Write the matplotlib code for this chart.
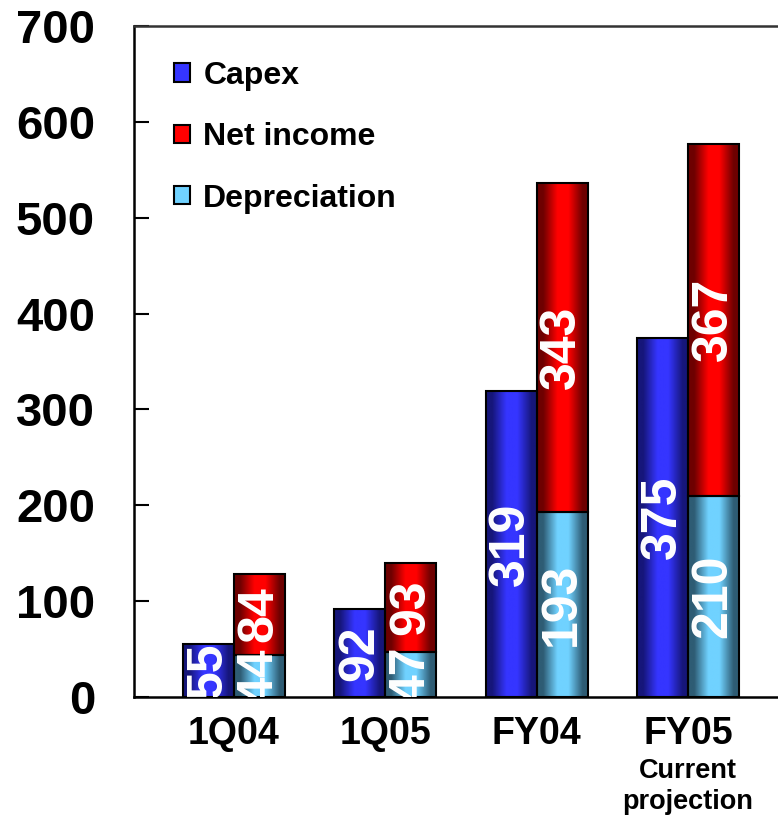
import numpy as np
from matplotlib import pyplot as plt
from matplotlib.colors import LinearSegmentedColormap

plt.rcParams['font.family'] = ['Liberation Sans', 'DejaVu Sans']
plt.rcParams['font.weight'] = 'bold'

periods = ['1Q04', '1Q05', 'FY04', 'FY05']
capex = [55, 92, 319, 375]
net_income = [84, 93, 343, 367]
depreciation = [44, 47, 193, 210]
y_ticks = [0, 100, 200, 300, 400, 500, 600, 700]

# dark edge / bright centre for the shaded bars
shades = {'Capex': ('#16167a', '#3535ff'),
          'Net income': ('#6e0000', '#ff0000'),
          'Depreciation': ('#2e5c74', '#70d2ff')}

fig = plt.figure(figsize=(7.78, 8.16), dpi=100)
ax = fig.add_axes([134 / 778, 119 / 816, 644 / 778, 671 / 816])

x = np.arange(len(periods))
w = 0.337
b_cap = ax.bar(x - w / 2, capex, w, color=shades['Capex'][1], edgecolor='black', linewidth=1.5, label='Capex')
b_dep = ax.bar(x + w / 2, depreciation, w, color=shades['Depreciation'][1], edgecolor='black', linewidth=1.5,
               label='Depreciation')
b_net = ax.bar(x + w / 2, net_income, w, bottom=depreciation, color=shades['Net income'][1], edgecolor='black',
               linewidth=1.5, label='Net income')

leg = ax.legend(handles=[b_cap, b_net, b_dep], loc='upper left', bbox_to_anchor=(0.062, 0.948), frameon=False,
                fontsize=23, handlelength=0.5, handleheight=0.5, handletextpad=0.42, labelspacing=0.98,
                borderpad=0, borderaxespad=0)


def shade(bars, name):
    dark, bright = shades[name]
    cmap = LinearSegmentedColormap.from_list(name, [(0, dark), (0.12, dark), (0.4, bright), (0.62, bright),
                                                    (0.9, dark), (1, dark)])
    grad = np.linspace(0, 1, 128).reshape(1, -1)
    for p in bars:
        x0, y0 = p.get_xy()
        im = ax.imshow(grad, cmap=cmap, aspect='auto', interpolation='bilinear', zorder=1.5,
                       extent=(x0, x0 + p.get_width(), y0, y0 + p.get_height()))
        im.set_clip_path(p)
        p.set_facecolor('none')
        p.set_zorder(2)


shade(b_cap, 'Capex')
shade(b_dep, 'Depreciation')
shade(b_net, 'Net income')

lab = dict(rotation=90, ha='center', va='center', color='white', fontsize=36, fontweight='bold', clip_on=True,
           zorder=3)
for i in range(len(periods)):
    ax.text(x[i] - w / 2, capex[i] / 2, str(capex[i]), **lab)
    ax.text(x[i] + w / 2, depreciation[i] / 2, str(depreciation[i]), **lab)
    ax.text(x[i] + w / 2, depreciation[i] + net_income[i] / 2, str(net_income[i]), **lab)

ax.annotate('Current\nprojection', xy=(x[3], -0.134), xycoords=('data', 'axes fraction'), ha='center', va='center',
            fontsize=19.5, fontweight='bold', linespacing=1.25, annotation_clip=False)

ax.set_xlim(-0.661, 3.595)
ax.set_ylim(0, 700)
ax.set_yticks(y_ticks)
ax.set_xticks(x, labels=periods)
ax.tick_params(axis='y', direction='in', length=11, width=1.5, pad=28, labelsize=34)
ax.tick_params(axis='x', length=0, pad=14, labelsize=27)
for lbl in ax.get_xticklabels() + ax.get_yticklabels():
    lbl.set_fontweight('bold')
ax.spines['right'].set_visible(False)
for s in ['left', 'bottom', 'top']:
    ax.spines[s].set_linewidth(1.8)
ax.spines['top'].set_color('#333333')

fig.savefig('out.png', dpi=100)
